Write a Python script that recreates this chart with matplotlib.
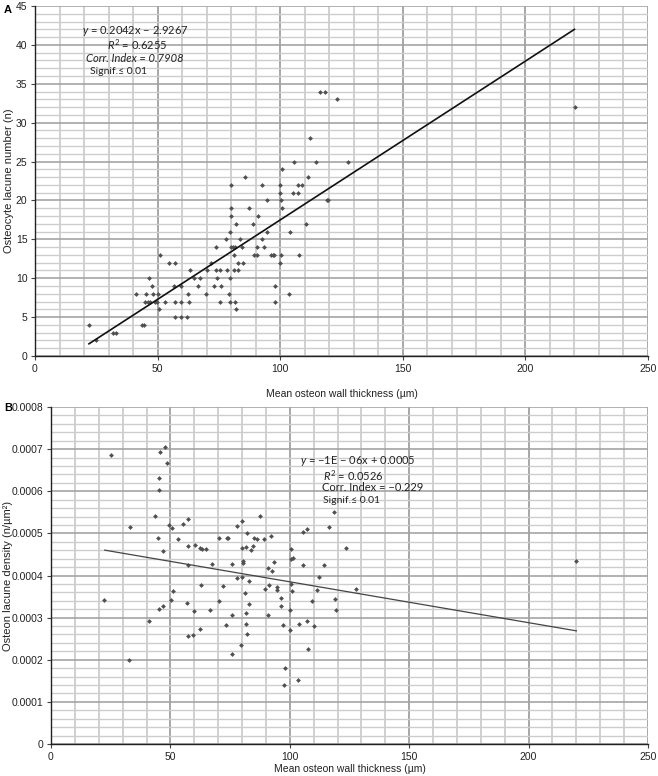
import numpy as np
import matplotlib
matplotlib.use("Agg")
import matplotlib.pyplot as plt
from matplotlib.ticker import MultipleLocator

plt.rcParams['font.family'] = ['Liberation Sans', 'DejaVu Sans']
plt.rcParams['mathtext.fontset'] = 'custom'
plt.rcParams['mathtext.rm'] = 'Lato'
plt.rcParams['mathtext.it'] = 'Lato:italic'

# ---------------- data: panel A ----------------
a_x = [22, 25, 32, 33, 41, 43.7, 44.3, 45, 46, 45.4, 46.4, 47.7, 47.1, 48.2, 49.1, 49.8,
       50.2, 50.9, 50.6, 53.1, 54.8, 57.2, 56.8, 56.9, 57.2, 59.6, 59.6, 59.6, 62.1, 62.5,
       63.2, 62.9, 64.7, 66.3, 67.1, 69.9, 70.1, 71.8, 72.8, 73.7, 74, 74.4, 75.4, 75.4,
       75.9, 78, 78.3, 79.3, 79.4, 79.7, 79.7, 79.8, 79.9, 80.1, 80.1, 80.8, 81.3, 81.6,
       81.3, 81.7, 82, 82.1, 82.6, 82.6, 83.5, 84.3, 84.9, 85.8, 87.4, 89.1, 89.5, 90.7,
       90.7, 91, 92.5, 92.5, 93.3, 94.5, 94.8, 96.3, 97, 97.4, 97.8, 97.7, 100, 100,
       100.3, 100.3, 100, 100.7, 100.7, 103.4, 104, 105.5, 105.3, 107.4, 107.1, 107.8,
       109, 110.5, 111.2, 112.3, 114.4, 116.3, 118.3, 123.3, 119, 119.6, 127.7, 220.3]
a_y = [4, 2, 3, 3, 8, 4, 4, 7, 7, 8, 10, 9, 7, 8, 7, 7,
       8, 13, 6, 7, 12, 12, 9, 7, 5, 9, 7, 5, 5, 8,
       11, 7, 10, 9, 10, 8, 11, 12, 9, 14, 11, 10, 11, 7,
       9, 15, 11, 8, 7, 10, 16, 18, 19, 22, 14, 14, 13, 14,
       11, 7, 17, 6, 12, 11, 15, 14, 12, 23, 19, 17, 13, 13,
       14, 18, 22, 15, 14, 20, 16, 13, 13, 13, 9, 7, 22, 21,
       20, 13, 12, 24, 19, 8, 16, 25, 21, 21, 22, 13,
       22, 17, 23, 28, 25, 34, 34, 33, 20, 20, 25, 32]
a_slope, a_intercept = 0.2042, -2.9267
a_fit_range = [22, 220]
a_text = ["$y$ = 0.2042x \u2212 2.9267", "$R^2$ = 0.6255",
          "Corr. Index = 0.7908", "Signif.\u2264 0.01"]

# ---------------- data: panel B ----------------
b_x = [25.1, 33.1, 47.9, 45.7, 48.5, 45.3, 45.3, 43.7, 44.7, 46.8, 49.6, 50.7, 53.2, 55.2,
       57.4, 57.5, 60.2, 62.4, 63.4, 65.0, 57.2, 67.4, 70.2, 73.7, 74.2, 75.9, 77.9, 80.1,
       81.9, 79.8, 81.8, 83.6, 84.7, 85.0, 86.1, 87.5, 89.1, 92.3, 80.2, 80.4, 78.0, 80.0,
       82.9, 63.0, 90.9, 92.5, 93.4, 100.6, 100.4, 101.4, 105.4, 107.3, 116.3, 105.4,
       114.3, 112.2, 118.4, 123.5, 127.9, 111.3, 119.0, 119.4, 109.2, 107.2, 110.2, 107.5,
       103.9, 99.9, 99.9, 100.9, 100.4, 97.2, 96.5, 96.5, 94.8, 94.5, 91.1, 89.5, 90.8,
       81.4, 82.9, 81.5, 81.6, 82.2, 79.5, 75.6, 73.1, 75.6, 72.0, 70.2, 66.4, 59.9, 56.9,
       57.2, 59.6, 62.5, 22.4, 32.5, 41.2, 45.4, 46.9, 50.3, 51.1, 97.8, 97.5, 103.3, 220.0]
b_y = [0.000685, 0.000515, 0.000705, 0.000692, 0.000667, 0.000631, 0.000604, 0.000542,
       0.000489, 0.000459, 0.000521, 0.000513, 0.000486, 0.000523, 0.000533, 0.000471,
       0.000472, 0.000465, 0.000463, 0.000464, 0.000426, 0.000428, 0.000488, 0.000490,
       0.000488, 0.000428, 0.000517, 0.000530, 0.000501, 0.000466, 0.000467, 0.000461,
       0.000470, 0.000488, 0.000487, 0.000542, 0.000486, 0.000494, 0.000434, 0.000429,
       0.000393, 0.000396, 0.000386, 0.000378, 0.000418, 0.000410, 0.000433, 0.000462,
       0.000438, 0.000441, 0.000504, 0.000510, 0.000514, 0.000426, 0.000424, 0.000397,
       0.000550, 0.000465, 0.000369, 0.000365, 0.000345, 0.000318, 0.000339, 0.000293,
       0.000279, 0.000226, 0.000284, 0.000270, 0.000317, 0.000363, 0.000381, 0.000283,
       0.000327, 0.000347, 0.000365, 0.000372, 0.000377, 0.000368, 0.000306, 0.000359,
       0.000333, 0.000311, 0.000286, 0.000262, 0.000234, 0.000213, 0.000283, 0.000307,
       0.000374, 0.000340, 0.000319, 0.000315, 0.000334, 0.000257, 0.000258, 0.000272,
       0.000342, 0.000200, 0.000292, 0.000320, 0.000328, 0.000342, 0.000363, 0.000180,
       0.000141, 0.000152, 0.000435]
b_slope, b_intercept = -9.7e-07, 0.000482
b_fit_range = [22.5, 220]
b_text = ["$y$ = \u22121E \u2212 06x + 0.0005", "$R^2$ = 0.0526",
          "Corr. Index = \u22120.229", "Signif.\u2264 0.01"]
b_ytick_labels = ["0", "0.0001", "0.0002", "0.0003", "0.0004",
                  "0.0005", "0.0006", "0.0007", "0.0008"]

xlabel = "Mean osteon wall thickness (\u00b5m)"

# ---------------- figure ----------------
fig = plt.figure(figsize=(6.58, 7.76), dpi=100)
W, H = 658, 776
axA = fig.add_axes([35 / W, 1 - 356 / H, (648 - 35) / W, (356 - 6) / H])
axB = fig.add_axes([51 / W, 1 - 744 / H, (648 - 51) / W, (744 - 407) / H])


def style(ax, ymax, ymajor, yminor):
    ax.set_xlim(0, 250)
    ax.set_ylim(0, ymax)
    ax.xaxis.set_major_locator(MultipleLocator(50))
    ax.xaxis.set_minor_locator(MultipleLocator(10))
    ax.yaxis.set_major_locator(MultipleLocator(ymajor))
    ax.yaxis.set_minor_locator(MultipleLocator(yminor))
    ax.xaxis.grid(True, which='minor', color='#c4c4c4', lw=1.1)
    ax.xaxis.grid(True, which='major', color='#909090', lw=1.1)
    ax.yaxis.grid(True, which='minor', color='#cdcdcd', lw=1.0)
    ax.yaxis.grid(True, which='major', color='#a4a4a4', lw=1.2)
    ax.set_axisbelow(True)
    for s in ['top', 'right']:
        ax.spines[s].set_visible(False)
    for s in ['left', 'bottom']:
        ax.spines[s].set_color('#222222')
        ax.spines[s].set_linewidth(1.0)
    ax.tick_params(which='minor', length=0)
    ax.tick_params(which='major', length=3, width=0.8, color='#444444',
                   labelsize=7.5, labelcolor='#222222', pad=2.5)


# Panel A
style(axA, 45, 5, 1)
axA.scatter(a_x, a_y, s=6, marker='D', color='#505050', linewidths=0, zorder=3)
fx = np.array(a_fit_range)
axA.plot(fx, a_slope * fx + a_intercept, color='#111111', lw=1.2, zorder=4)
axA.set_xlabel(xlabel, fontsize=7.5, color='#222222', labelpad=11)
axA.set_ylabel("Osteocyte lacune number (n)", fontsize=8, color='#222222',
               va='center')
axA.yaxis.set_label_coords((9 - 35) / (648 - 35), 0.5)
tkw = dict(family='Lato', fontsize=8, color='#222222', va='center', zorder=5)
axA.text(40.8, 41.8, a_text[0], ha='center', **tkw)
axA.text(41.6, 40.0, a_text[1], ha='center', **tkw)
axA.text(40.8, 38.3, a_text[2], ha='center', style='italic', **tkw)
axA.text(22.4, 36.6, a_text[3], ha='left', **dict(tkw, fontsize=7.5))

# Panel B
style(axB, 0.0008, 0.0001, 0.00002)
axB.set_yticks(np.arange(0, 0.00081, 0.0001))
axB.set_yticklabels(b_ytick_labels)
axB.scatter(b_x, b_y, s=6, marker='D', color='#505050', linewidths=0, zorder=3)
fx = np.array(b_fit_range)
axB.plot(fx, b_slope * fx + b_intercept, color='#444444', lw=0.9, zorder=4)
axB.set_xlabel(xlabel, fontsize=7.5, color='#222222', labelpad=1.5)
axB.set_ylabel("Osteon lacune density (n/\u00b5m\u00b2)", fontsize=8, color='#222222',
               va='center')
axB.yaxis.set_label_coords((8 - 51) / (648 - 51), 0.5)
axB.text(104.3, 0.000671, b_text[0], ha='left', **tkw)
axB.text(113.8, 0.000637, b_text[1], ha='left', **tkw)
axB.text(113.4, 0.000609, b_text[2], ha='left', **tkw)
axB.text(113.8, 0.000579, b_text[3], ha='left', **dict(tkw, fontsize=7.5))

fig.text(4 / W, 1 - 10 / H, "A", fontsize=8, fontweight='bold', va='center', ha='left')
fig.text(4 / W, 1 - 408 / H, "B", fontsize=8, fontweight='bold', va='center', ha='left')

fig.savefig("out.png", dpi=100)
